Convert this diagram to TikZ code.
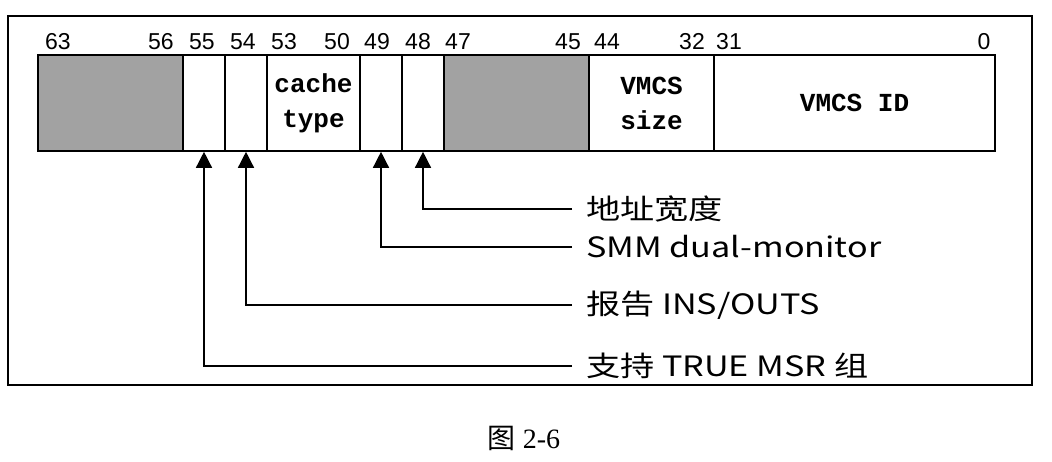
\documentclass[tikz,border=0pt]{standalone}
\usepackage{fontspec}
\usepackage{graphicx}
\setmainfont{Liberation Serif}
\newfontfamily\bitfont{Liberation Sans}
\newfontfamily\monof{Liberation Mono}
\newfontfamily\cjk{Noto Sans CJK SC}
\usetikzlibrary{arrows.meta}
\definecolor{resgray}{RGB}{162,162,162}
\newcommand{\widelbl}[1]{\scalebox{1.22}[1]{#1}}
\begin{document}
\begin{tikzpicture}[x=1pt,y=-1pt,
  cell/.style={draw=black, line width=1.6pt, minimum height=96pt, inner sep=0pt, anchor=center},
  rsv/.style={cell, fill=resgray},
  bitno/.style={font=\bitfont\fontsize{23}{23}\selectfont, anchor=base, inner sep=0pt},
  field/.style={font=\monof\bfseries\fontsize{26}{35}\selectfont, align=center},
  lbl/.style={font=\cjk\fontsize{28}{30}\selectfont, anchor=west, inner xsep=14pt, inner ysep=0pt},
  conn/.style={draw=black, line width=1.4pt, -{Triangle[width=16pt,length=16pt]}},
  frame/.style={draw=black, line width=1.5pt}
]
\useasboundingbox (0,0) rectangle (1052,462);
\node[frame, minimum width=1024pt, minimum height=369pt, inner sep=0pt] (outer) at (520,200.5) {};
% register cells
\node[rsv,  minimum width=145pt] (r63) at (110.5,103) {};
\node[cell, minimum width=42pt]  (c55) at (204,103) {};
\node[cell, minimum width=42pt]  (c54) at (246,103) {};
\node[cell, minimum width=93pt]  (c53) at (313.5,103) {};
\node[cell, minimum width=42pt]  (c49) at (381,103) {};
\node[cell, minimum width=42pt]  (c48) at (423,103) {};
\node[rsv,  minimum width=145pt] (r47) at (516.5,103) {};
\node[cell, minimum width=125pt] (c44) at (651.5,103) {};
\node[cell, minimum width=281pt] (c31) at (854.5,103) {};
\node[field] (t53) at (313.5,103) {cache\\type};
\node[field] (t44) at (651.5,103) {VMCS\\size};
\node[field] (t31) at (854.5,103) {VMCS ID};
% bit numbers
\node[bitno] (b63) at (58,50) {63};
\node[bitno] (b56) at (161,50) {56};
\node[bitno] (b55) at (202,50) {55};
\node[bitno] (b54) at (243,50) {54};
\node[bitno] (b53) at (284,50) {53};
\node[bitno] (b50) at (337,50) {50};
\node[bitno] (b49) at (377,50) {49};
\node[bitno] (b48) at (418,50) {48};
\node[bitno] (b47) at (458,50) {47};
\node[bitno] (b45) at (568,50) {45};
\node[bitno] (b44) at (607,50) {44};
\node[bitno] (b32) at (692,50) {32};
\node[bitno] (b31) at (729,50) {31};
\node[bitno] (b0)  at (984,50) {0};
% labels
\node[lbl] (l48) at (572,209) {\widelbl{地址宽度}};
\node[lbl] (l49) at (572,247) {\widelbl{SMM dual-monitor}};
\node[lbl] (l54) at (572,305) {\widelbl{报告 INS/OUTS}};
\node[lbl] (l55) at (572,366) {\widelbl{支持 TRUE MSR 组}};
% connectors
\draw[conn] (l48.west) -| (c48.south);
\draw[conn] (l49.west) -| (c49.south);
\draw[conn] (l54.west) -| (c54.south);
\draw[conn] (l55.west) -| (c55.south);
% caption
\node[font=\fontsize{28}{30}\selectfont, inner sep=0pt] (cap) at (524,438) {{\cjk 图} 2-6};
\end{tikzpicture}
\end{document}
